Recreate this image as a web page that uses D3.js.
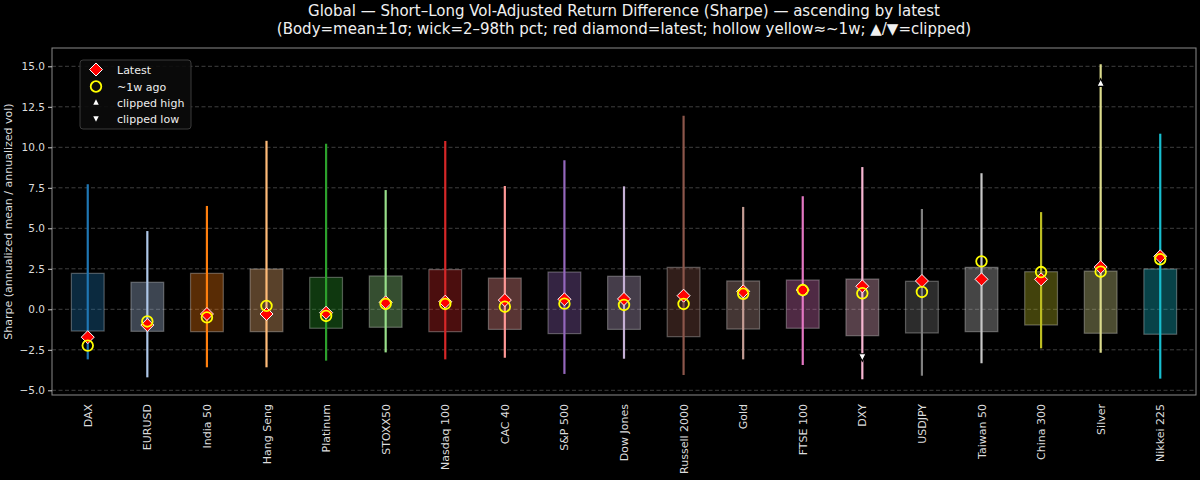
<!DOCTYPE html>
<html><head><meta charset="utf-8">
<script src="https://cdn.jsdelivr.net/npm/d3@7"></script>
<style>html,body{margin:0;padding:0;background:#000;}svg{display:block;font-family:"DejaVu Sans",sans-serif;}</style>
</head><body>
<script>
const categories = ["DAX","EURUSD","India 50","Hang Seng","Platinum","STOXX50","Nasdaq 100","CAC 40","S&P 500","Dow Jones","Russell 2000","Gold","FTSE 100","DXY","USDJPY","Taiwan 50","China 300","Silver","Nikkei 225"];
const bodyLow  = [-1.34,-1.36,-1.38,-1.38,-1.17,-1.11,-1.38,-1.24,-1.50,-1.24,-1.69,-1.22,-1.17,-1.63,-1.46,-1.38,-0.97,-1.48,-1.54];
const bodyHigh = [2.22,1.67,2.22,2.49,1.97,2.06,2.45,1.93,2.30,2.04,2.59,1.75,1.81,1.87,1.73,2.59,2.32,2.36,2.49];
const wickLow  = [-3.09,-4.20,-3.58,-3.58,-3.17,-2.66,-3.09,-2.99,-3.99,-3.05,-4.06,-3.09,-3.44,-4.32,-4.10,-3.33,-2.41,-2.68,-4.28];
const wickHigh = [7.72,4.83,6.38,10.40,10.22,7.36,10.39,7.61,9.20,7.59,11.95,6.32,6.98,8.78,6.19,8.40,6.00,15.12,10.84];
const latest   = [-1.72,-0.97,-0.29,-0.29,-0.21,0.43,0.47,0.57,0.62,0.64,0.84,1.11,1.19,1.42,1.75,1.85,1.85,2.61,3.27];
const weekAgo  = [-2.24,-0.75,-0.50,0.21,-0.41,0.33,0.33,0.16,0.35,0.27,0.33,0.96,1.19,0.99,1.07,2.96,2.30,2.32,3.09];
const clippedHigh = [null,null,null,null,null,null,null,null,null,null,null,null,null,null,null,null,null,13.95,null];
const clippedLow  = [null,null,null,null,null,null,null,null,null,null,null,null,null,-2.93,null,null,null,null,null];
const colors = ["#1f77b4","#aec7e8","#ff7f0e","#ffbb78","#2ca02c","#98df8a","#d62728","#ff9896","#9467bd","#c5b0d5","#8c564b","#c49c94","#e377c2","#f7b6d2","#7f7f7f","#c7c7c7","#bcbd22","#dbdb8d","#17becf"];
const yTicks = [-5.0,-2.5,0.0,2.5,5.0,7.5,10.0,12.5,15.0];
const titleLines = ["Global \u2014 Short\u2013Long Vol-Adjusted Return Difference (Sharpe) \u2014 ascending by latest",
  "(Body=mean\u00b11\u03c3; wick=2\u201398th pct; red diamond=latest; hollow yellow\u2248~1w; \u25b2/\u25bc=clipped)"];
const yLabel = "Sharpe (annualized mean / annualized vol)";
const legendLabels = ["Latest","~1w ago","clipped high","clipped low"];

const W = 1200, H = 480;
const m = {left: 52, right: 4, top: 48, bottom: 85};
const svg = d3.select("body").append("svg").attr("width", W).attr("height", H);
svg.append("rect").attr("width", W).attr("height", H).attr("fill", "#000");

const x = d3.scaleLinear().domain([-0.6, categories.length - 1 + 0.6]).range([m.left, W - m.right]);
const y = d3.scaleLinear().domain([-5.29, 16.13]).range([H - m.bottom, m.top]);
const bw = (x(0.55) - x(0));

// grid
svg.append("g").selectAll("line").data(yTicks).join("line")
  .attr("x1", m.left).attr("x2", W - m.right)
  .attr("y1", d => y(d)).attr("y2", d => y(d))
  .attr("stroke", "#4f4f4f").attr("stroke-width", 0.8).attr("stroke-dasharray", "4,2.5");

const idx = d3.range(categories.length);
// bodies
svg.append("g").selectAll("rect").data(idx).join("rect")
  .attr("x", i => x(i) - bw / 2).attr("width", bw)
  .attr("y", i => y(bodyHigh[i])).attr("height", i => y(bodyLow[i]) - y(bodyHigh[i]))
  .attr("fill", i => colors[i]).attr("fill-opacity", 0.35)
  .attr("stroke", "#ffffff").attr("stroke-opacity", 0.3).attr("stroke-width", 1.2);
// wicks
svg.append("g").selectAll("line").data(idx).join("line")
  .attr("x1", i => x(i)).attr("x2", i => x(i))
  .attr("y1", i => y(wickLow[i])).attr("y2", i => y(wickHigh[i]))
  .attr("stroke", i => colors[i]).attr("stroke-width", 2.2);

const diamond = (cx, cy, r) => `M${cx},${cy - r}L${cx + r},${cy}L${cx},${cy + r}L${cx - r},${cy}Z`;
const triUp = (cx, cy, s) => `M${cx},${cy - s * 0.6}L${cx + s / 2},${cy + s * 0.4}L${cx - s / 2},${cy + s * 0.4}Z`;
const triDown = (cx, cy, s) => `M${cx},${cy + s * 0.6}L${cx + s / 2},${cy - s * 0.4}L${cx - s / 2},${cy - s * 0.4}Z`;

// clipped markers
svg.append("g").selectAll("path").data(idx.filter(i => clippedHigh[i] != null)).join("path")
  .attr("d", i => triUp(x(i), y(clippedHigh[i]), 7.5))
  .attr("fill", "#fff").attr("stroke", "#000").attr("stroke-width", 1.2);
svg.append("g").selectAll("path").data(idx.filter(i => clippedLow[i] != null)).join("path")
  .attr("d", i => triDown(x(i), y(clippedLow[i]), 7.5))
  .attr("fill", "#fff").attr("stroke", "#000").attr("stroke-width", 1.2);

// latest diamonds
svg.append("g").selectAll("path").data(idx).join("path")
  .attr("d", i => diamond(x(i), y(latest[i]), 6.5))
  .attr("fill", "#ff0000").attr("stroke", "#ffffff").attr("stroke-width", 1);
// week-ago circles
svg.append("g").selectAll("circle").data(idx).join("circle")
  .attr("cx", i => x(i)).attr("cy", i => y(weekAgo[i])).attr("r", 5.3)
  .attr("fill", "none").attr("stroke", "#ffff00").attr("stroke-width", 1.8);

// frame
svg.append("rect").attr("x", m.left).attr("y", m.top)
  .attr("width", W - m.right - m.left).attr("height", H - m.bottom - m.top)
  .attr("fill", "none").attr("stroke", "#8a8a8a").attr("stroke-width", 1);

// y axis
const yAxis = svg.append("g").attr("transform", `translate(${m.left},0)`)
  .call(d3.axisLeft(y).tickValues(yTicks).tickFormat(d => d3.format(".1f")(d).replace("-", "\u2212")).tickSize(4).tickPadding(3));
yAxis.select(".domain").remove();
yAxis.selectAll("line").attr("stroke", "#cccccc");
yAxis.selectAll("text").attr("fill", "#dddddd").attr("font-size", 10.5).attr("font-family", "DejaVu Sans");

// x labels
svg.append("g").selectAll("text").data(idx).join("text")
  .attr("transform", i => `translate(${x(i) + 4},${H - m.bottom + 9}) rotate(-90)`)
  .attr("text-anchor", "end").attr("fill", "#dddddd").attr("font-size", 11)
  .text(i => categories[i]);

// y label
svg.append("text").attr("transform", `translate(12,${(m.top + H - m.bottom) / 2}) rotate(-90)`)
  .attr("text-anchor", "middle").attr("fill", "#dddddd").attr("font-size", 11).text(yLabel);

// title
svg.append("g").selectAll("text").data(titleLines).join("text")
  .attr("x", (m.left + W - m.right) / 2).attr("y", (d, i) => 16 + i * 17.5)
  .attr("text-anchor", "middle").attr("fill", "#f0f0f0").attr("font-size", 15).text(d => d);

// legend
const lg = svg.append("g").attr("transform", "translate(80,60)");
lg.append("rect").attr("width", 111).attr("height", 69).attr("rx", 3)
  .attr("fill", "#0b0b0b").attr("fill-opacity", 0.9).attr("stroke", "#3a3a3a").attr("stroke-width", 1);
const rowY = [9.5, 26.5, 42.5, 58.5];
lg.append("path").attr("d", diamond(16, rowY[0], 6.5)).attr("fill", "#ff0000").attr("stroke", "#fff").attr("stroke-width", 1);
lg.append("circle").attr("cx", 16).attr("cy", rowY[1]).attr("r", 5.3).attr("fill", "none").attr("stroke", "#ffff00").attr("stroke-width", 1.8);
lg.append("path").attr("d", triUp(16, rowY[2], 5.5)).attr("fill", "#fff");
lg.append("path").attr("d", triDown(16, rowY[3], 5.5)).attr("fill", "#fff");
lg.selectAll("text.lab").data(legendLabels).join("text").attr("class", "lab")
  .attr("x", 37).attr("y", (d, i) => rowY[i] + 4).attr("fill", "#eeeeee").attr("font-size", 11).text(d => d);
</script>
</body></html>
